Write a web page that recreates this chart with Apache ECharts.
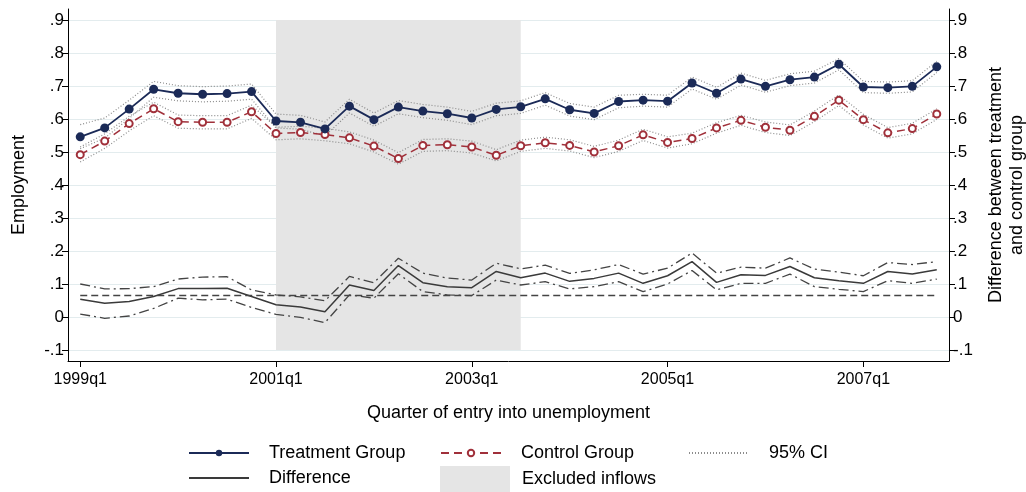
<!DOCTYPE html>
<html>
<head>
<meta charset="utf-8">
<title>Employment by quarter of entry into unemployment</title>
<script src="https://cdn.jsdelivr.net/npm/echarts@6/dist/echarts.min.js"></script>
<style>
  html, body { margin: 0; padding: 0; background: #fff; }
  #chart { width: 1026px; height: 492px; }
</style>
</head>
<body>
<div id="chart"></div>
<script>
// Quarter of entry into unemployment
const quarters = [
  '1999q1','1999q2','1999q3','1999q4','2000q1','2000q2','2000q3','2000q4',
  '2001q1','2001q2','2001q3','2001q4','2002q1','2002q2','2002q3','2002q4',
  '2003q1','2003q2','2003q3','2003q4','2004q1','2004q2','2004q3','2004q4',
  '2005q1','2005q2','2005q3','2005q4','2006q1','2006q2','2006q3','2006q4',
  '2007q1','2007q2','2007q3','2007q4'
];

// Employment rate, treatment group, with 95% confidence bounds
const treatment = [
  0.546, 0.573, 0.630, 0.690, 0.678, 0.675, 0.677, 0.683,
  0.594, 0.590, 0.570, 0.639, 0.598, 0.636, 0.624, 0.616,
  0.603, 0.629, 0.637, 0.661, 0.628, 0.617, 0.653, 0.657,
  0.654, 0.709, 0.678, 0.721, 0.699, 0.719, 0.727, 0.766,
  0.697, 0.695, 0.699, 0.758
];
const treatmentHi = [
  0.583, 0.603, 0.657, 0.714, 0.701, 0.698, 0.700, 0.706,
  0.615, 0.611, 0.591, 0.660, 0.618, 0.656, 0.644, 0.636,
  0.623, 0.648, 0.655, 0.680, 0.647, 0.636, 0.672, 0.675,
  0.672, 0.727, 0.696, 0.739, 0.717, 0.737, 0.745, 0.783,
  0.714, 0.712, 0.716, 0.775
];
const treatmentLo = [
  0.510, 0.542, 0.602, 0.666, 0.655, 0.652, 0.654, 0.660,
  0.573, 0.569, 0.549, 0.618, 0.578, 0.616, 0.604, 0.596,
  0.583, 0.610, 0.617, 0.642, 0.609, 0.598, 0.634, 0.639,
  0.636, 0.691, 0.660, 0.703, 0.681, 0.701, 0.709, 0.749,
  0.680, 0.678, 0.682, 0.741
];

// Employment rate, control group, with 95% confidence bounds
const control = [
  0.492, 0.533, 0.586, 0.631, 0.592, 0.590, 0.590, 0.622,
  0.556, 0.559, 0.553, 0.543, 0.518, 0.480, 0.520, 0.522,
  0.515, 0.490, 0.519, 0.528, 0.520, 0.500, 0.519, 0.552,
  0.529, 0.541, 0.573, 0.596, 0.575, 0.566, 0.608, 0.657,
  0.598, 0.558, 0.571, 0.615
];
const controlHi = [
  0.515, 0.555, 0.608, 0.651, 0.612, 0.610, 0.610, 0.642,
  0.575, 0.578, 0.572, 0.561, 0.536, 0.498, 0.538, 0.540,
  0.533, 0.507, 0.536, 0.545, 0.537, 0.517, 0.536, 0.569,
  0.546, 0.557, 0.589, 0.611, 0.591, 0.582, 0.624, 0.673,
  0.614, 0.574, 0.587, 0.631
];
const controlLo = [
  0.470, 0.511, 0.564, 0.610, 0.572, 0.570, 0.570, 0.602,
  0.537, 0.540, 0.534, 0.525, 0.500, 0.463, 0.502, 0.504,
  0.497, 0.473, 0.502, 0.511, 0.503, 0.483, 0.502, 0.535,
  0.512, 0.525, 0.557, 0.581, 0.559, 0.550, 0.592, 0.641,
  0.582, 0.542, 0.555, 0.599
];

// Difference between treatment and control group, with 95% confidence bounds
const difference = [
  0.054, 0.042, 0.047, 0.062, 0.086, 0.086, 0.087, 0.062,
  0.037, 0.030, 0.016, 0.097, 0.080, 0.156, 0.104, 0.092,
  0.089, 0.138, 0.119, 0.133, 0.108, 0.117, 0.133, 0.102,
  0.125, 0.168, 0.105, 0.128, 0.126, 0.153, 0.119, 0.110,
  0.102, 0.138, 0.130, 0.143
];
const differenceHi = [
  0.100, 0.085, 0.086, 0.092, 0.115, 0.121, 0.122, 0.082,
  0.067, 0.061, 0.049, 0.123, 0.104, 0.178, 0.133, 0.118,
  0.112, 0.163, 0.146, 0.157, 0.132, 0.143, 0.159, 0.130,
  0.148, 0.194, 0.133, 0.151, 0.148, 0.179, 0.145, 0.136,
  0.125, 0.165, 0.159, 0.168
];
const differenceLo = [
  0.009, -0.004, 0.003, 0.026, 0.057, 0.052, 0.054, 0.029,
  0.008, -0.001, -0.017, 0.067, 0.057, 0.131, 0.077, 0.067,
  0.065, 0.112, 0.097, 0.107, 0.085, 0.092, 0.107, 0.077,
  0.100, 0.141, 0.082, 0.102, 0.102, 0.130, 0.092, 0.084,
  0.077, 0.110, 0.102, 0.115
];

// Reference level of the difference (dashed horizontal line)
const differenceReference = 0.065;

// Quarters whose inflows are excluded (shaded band)
const excludedFrom = '2001q1';
const excludedTo = '2003q3';

// Value axis: labelled range and step
const yMin = -0.1;
const yMax = 0.9;
const yStep = 0.1;

const NAVY = '#1b2a57';
const RED = '#a0303a';
const CI_GREY = '#8c8c8c';
const DIFF = '#3a3a3a';
const GRID = '#e3ecee';
const SHADE = '#e5e5e5';
const FONT = '"Liberation Sans", Arial, Helvetica, sans-serif';

// The plot frame reaches one third of a step beyond the labelled range
const pad = yStep / 3;
const frameMin = yMin - pad;
const frameMax = yMax + pad;

const fmt = v => {
  const s = (+v.toFixed(1)).toString();
  return s === '0' ? '0' : s.replace('0.', '.');
};

const plotLeft = 68, plotRight = 77;

const chart = echarts.init(document.getElementById('chart'), null, { renderer: 'canvas' });

const legendBase = {
  orient: 'horizontal',
  padding: 0,
  itemWidth: 60,
  itemHeight: 8,
  selectedMode: false,
  textStyle: { fontSize: 18, color: '#000', fontFamily: FONT, padding: [0, 0, 0, 15] }
};
const noMarker = { opacity: 0 };

const option = {
  animation: false,
  backgroundColor: '#fff',
  textStyle: { fontFamily: FONT },
  grid: [
    // frame with the data
    { left: plotLeft, right: plotRight, top: 9, bottom: 131, outerBoundsMode: 'none', containLabel: false },
    // labelled ticks and grid lines
    { left: plotLeft, right: plotRight, top: 20, bottom: 142, outerBoundsMode: 'none', containLabel: false }
  ],
  legend: [
    Object.assign({}, legendBase, { left: 188, top: 444, data: ['Treatment Group'] }),
    Object.assign({}, legendBase, { left: 440, top: 444, data: ['Control Group'] }),
    Object.assign({}, legendBase, { left: 688, top: 444, data: [{ name: '95% CI', itemStyle: noMarker }] }),
    Object.assign({}, legendBase, { left: 188, top: 469, data: [{ name: 'Difference', itemStyle: noMarker }] }),
    Object.assign({}, legendBase, {
      left: 440, top: 466, itemWidth: 70, itemHeight: 26,
      textStyle: Object.assign({}, legendBase.textStyle, { padding: [0, 0, 0, 7] }),
      data: [{ name: 'Excluded inflows', icon: 'rect' }]
    })
  ],
  xAxis: [
    {
      gridIndex: 0,
      type: 'category',
      data: quarters,
      boundaryGap: true,
      name: 'Quarter of entry into unemployment',
      nameLocation: 'middle',
      nameGap: 43,
      nameTextStyle: { fontSize: 18, color: '#000', fontFamily: FONT },
      axisLine: { show: true, onZero: false, lineStyle: { color: '#000', width: 1 } },
      axisTick: { show: true, interval: 7, alignWithLabel: true, length: 6, lineStyle: { color: '#000', width: 1 } },
      axisLabel: { interval: 7, fontSize: 16, color: '#000', margin: 11, fontFamily: FONT },
      splitLine: { show: false }
    },
    {
      gridIndex: 1,
      type: 'category',
      data: quarters,
      show: false
    }
  ],
  yAxis: [
    {
      gridIndex: 0, type: 'value', position: 'left',
      min: frameMin, max: frameMax,
      name: 'Employment',
      nameLocation: 'middle',
      nameGap: 40,
      nameTextStyle: { fontSize: 18, color: '#000', fontFamily: FONT },
      axisLine: { show: true, onZero: false, lineStyle: { color: '#000', width: 1 } },
      axisTick: { show: false }, axisLabel: { show: false }, splitLine: { show: false }
    },
    {
      gridIndex: 0, type: 'value', position: 'right',
      min: frameMin, max: frameMax,
      name: 'Difference between treatment\nand control group',
      nameLocation: 'middle',
      nameGap: 37,
      nameTextStyle: { fontSize: 18, color: '#000', lineHeight: 21, fontFamily: FONT },
      axisLine: { show: true, onZero: false, lineStyle: { color: '#000', width: 1 } },
      axisTick: { show: false }, axisLabel: { show: false }, splitLine: { show: false }
    },
    {
      gridIndex: 1, type: 'value', position: 'left',
      min: yMin, max: yMax, interval: yStep,
      axisLine: { show: false },
      axisTick: { show: true, length: 6, lineStyle: { color: '#000', width: 1 } },
      axisLabel: { fontSize: 17, color: '#000', margin: 4, formatter: fmt, fontFamily: FONT },
      splitLine: { show: true, lineStyle: { color: GRID, width: 1.2 } }
    },
    {
      gridIndex: 1, type: 'value', position: 'right',
      min: yMin, max: yMax, interval: yStep,
      axisLine: { show: false },
      axisTick: { show: true, length: 6, lineStyle: { color: '#000', width: 1 } },
      axisLabel: { fontSize: 17, color: '#000', margin: 4, formatter: fmt, fontFamily: FONT },
      splitLine: { show: false }
    }
  ],
  series: [
    {
      name: 'Excluded inflows',
      type: 'line',
      xAxisIndex: 0, yAxisIndex: 0,
      data: [],
      z: 1,
      itemStyle: { color: SHADE },
      lineStyle: { color: SHADE },
      markArea: {
        silent: true,
        itemStyle: { color: SHADE },
        data: [[{ xAxis: excludedFrom, yAxis: yMin }, { xAxis: excludedTo, yAxis: yMax }]]
      }
    },
    // confidence bounds of the two groups
    ...[treatmentHi, treatmentLo, controlHi, controlLo].map(arr => ({
      name: '95% CI',
      type: 'line',
      xAxisIndex: 0, yAxisIndex: 0,
      data: arr,
      showSymbol: false,
      symbol: 'none',
      z: 3,
      itemStyle: { color: CI_GREY },
      lineStyle: { color: CI_GREY, width: 1.2, type: [1, 2] }
    })),
    // confidence bounds of the difference
    ...[differenceHi, differenceLo].map(arr => ({
      name: 'Difference CI',
      type: 'line',
      xAxisIndex: 0, yAxisIndex: 1,
      data: arr,
      showSymbol: false,
      symbol: 'none',
      z: 3,
      itemStyle: { color: '#444' },
      lineStyle: { color: '#444', width: 1.3, type: [10, 4, 2, 4] }
    })),
    {
      name: 'Difference',
      type: 'line',
      xAxisIndex: 0, yAxisIndex: 1,
      data: difference,
      showSymbol: false,
      symbol: 'none',
      z: 4,
      itemStyle: { color: DIFF },
      lineStyle: { color: DIFF, width: 1.5 },
      markLine: {
        silent: true,
        symbol: 'none',
        label: { show: false },
        lineStyle: { color: '#444', width: 1.3, type: [7, 4] },
        data: [[
          { xAxis: quarters[0], yAxis: differenceReference },
          { xAxis: quarters[quarters.length - 1], yAxis: differenceReference }
        ]]
      }
    },
    {
      name: 'Control Group',
      type: 'line',
      xAxisIndex: 0, yAxisIndex: 0,
      data: control,
      symbol: 'emptyCircle',
      symbolSize: 7,
      showAllSymbol: true,
      z: 5,
      itemStyle: { color: RED, borderColor: RED, borderWidth: 1.3 },
      lineStyle: { color: RED, width: 1.5, type: [8, 5] }
    },
    {
      name: 'Treatment Group',
      type: 'line',
      xAxisIndex: 0, yAxisIndex: 0,
      data: treatment,
      symbol: 'circle',
      symbolSize: 9,
      showAllSymbol: true,
      z: 6,
      itemStyle: { color: NAVY },
      lineStyle: { color: NAVY, width: 1.8 }
    }
  ]
};

chart.setOption(option);
</script>
</body>
</html>
